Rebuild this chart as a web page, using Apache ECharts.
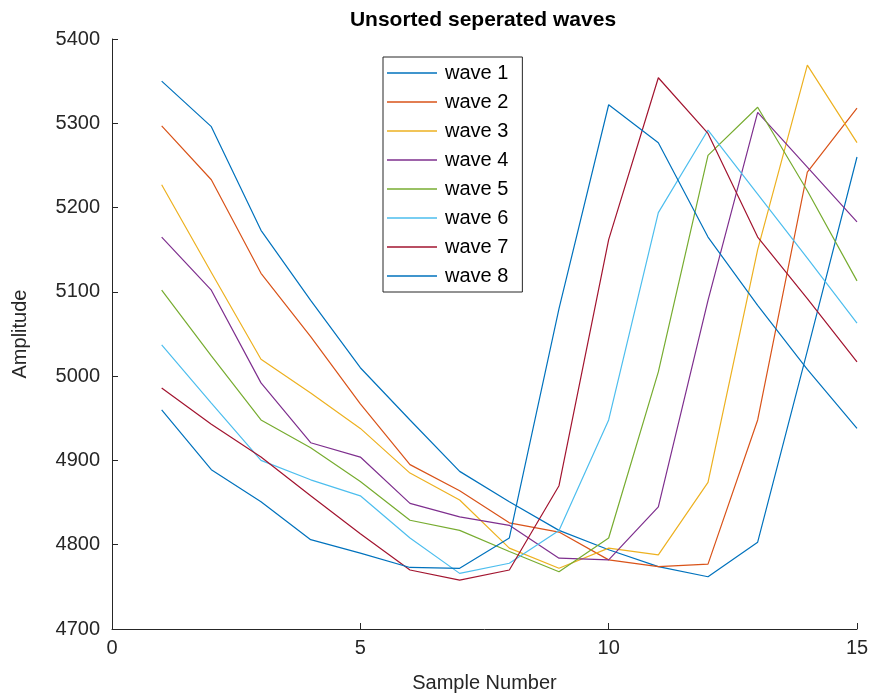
<!DOCTYPE html>
<html>
<head>
<meta charset="utf-8">
<script src="https://cdn.jsdelivr.net/npm/echarts@6/dist/echarts.min.js"></script>
<style>
html,body{margin:0;padding:0;background:#fff;}
#chart{width:870px;height:697px;}
</style>
</head>
<body>
<div id="chart"></div>
<script>
var sampleNumbers = [1,2,3,4,5,6,7,8,9,10,11,12,13,14,15];
var waveNames = ['wave 1','wave 2','wave 3','wave 4','wave 5','wave 6','wave 7','wave 8'];
var wave1 = [5350,5296,5173,5090,5010,4948,4887,4851,4817,4794,4774,4762,4803,5030,5260];
var wave2 = [5297,5233,5122,5047,4967,4895,4864,4826,4815,4782,4774,4777,4948,5242,5318];
var wave3 = [5227,5123,5020,4980,4938,4885,4853,4796,4772,4796,4788,4874,5150,5369,5277];
var wave4 = [5165,5102,4992,4921,4904,4849,4833,4823,4784,4782,4845,5090,5313,5248,5183];
var wave5 = [5102,5024,4948,4915,4875,4829,4817,4792,4768,4808,5005,5262,5319,5220,5113];
var wave6 = [5037,4968,4900,4877,4858,4808,4766,4778,4817,4948,5194,5292,5216,5140,5063];
var wave7 = [4986,4943,4904,4858,4813,4770,4758,4770,4870,5162,5354,5288,5165,5092,5017];
var wave8 = [4960,4889,4851,4806,4790,4773,4772,4808,5080,5322,5277,5165,5084,5008,4938];
var waveColors = ['#0072BD','#D95319','#EDB120','#7E2F8E','#77AC30','#4DBEEE','#A2142F','#0072BD'];
var xTicks = [0,5,10,15];
var yTicks = [4700,4800,4900,5000,5100,5200,5300,5400];

var FONT = 'Liberation Sans, Arial, Helvetica, sans-serif';
var waves = [wave1,wave2,wave3,wave4,wave5,wave6,wave7,wave8];
var series = waves.map(function(w,i){
  return {
    name: waveNames[i],
    type: 'line',
    data: w.map(function(v,j){return [sampleNumbers[j], v];}),
    symbol: 'none',
    lineStyle: {width: 1.2, color: waveColors[i]},
    itemStyle: {color: waveColors[i]},
    animation: false
  };
});

var chart = echarts.init(document.getElementById('chart'), null, {renderer:'canvas'});
chart.setOption({
  backgroundColor: '#ffffff',
  animation: false,
  title: {
    text: 'Unsorted seperated waves',
    left: 478,
    textAlign: 'center',
    top: 5,
    textStyle: {fontFamily: FONT, fontWeight: 'bold', fontSize: 21, color: '#000'}
  },
  grid: {left: 112, right: 13, top: 39, bottom: 68, containLabel: false, outerBoundsMode: 'none'},
  legend: {
    orient: 'vertical',
    left: 383,
    top: 57,
    data: waveNames,
    icon: 'rect',
    itemWidth: 50,
    itemHeight: 1.5,
    itemGap: 9,
    padding: [6, 14, 6, 4],
    borderColor: '#262626',
    borderWidth: 1,
    backgroundColor: '#fff',
    textStyle: {fontFamily: FONT, fontSize: 20, color: '#000', padding: [0, 0, 0, 3]}
  },
  xAxis: {
    type: 'value',
    min: 0, max: 15, interval: 5,
    name: 'Sample Number',
    nameLocation: 'middle',
    nameGap: 44,
    nameTextStyle: {fontFamily: FONT, fontSize: 20, color: '#262626'},
    axisLine: {show: true, onZero: false, lineStyle: {color: '#262626', width: 1}},
    axisTick: {show: true, inside: true, length: 6, lineStyle: {color: '#262626'}},
    axisLabel: {fontFamily: FONT, fontSize: 20, color: '#262626', margin: 9,
      formatter: function(v){ return xTicks.indexOf(v) >= 0 ? String(v) : ''; }},
    splitLine: {show: false}
  },
  yAxis: {
    type: 'value',
    min: 4700, max: 5400, interval: 100,
    name: 'Amplitude',
    nameLocation: 'middle',
    nameGap: 82,
    nameRotate: 90,
    nameTextStyle: {fontFamily: FONT, fontSize: 20, color: '#262626'},
    axisLine: {show: true, onZero: false, lineStyle: {color: '#262626', width: 1}},
    axisTick: {show: true, inside: true, length: 6, lineStyle: {color: '#262626'}},
    axisLabel: {fontFamily: FONT, fontSize: 20, color: '#262626', margin: 12,
      formatter: function(v){ return yTicks.indexOf(v) >= 0 ? String(v) : ''; }},
    splitLine: {show: false}
  },
  series: series
});
</script>
</body>
</html>
